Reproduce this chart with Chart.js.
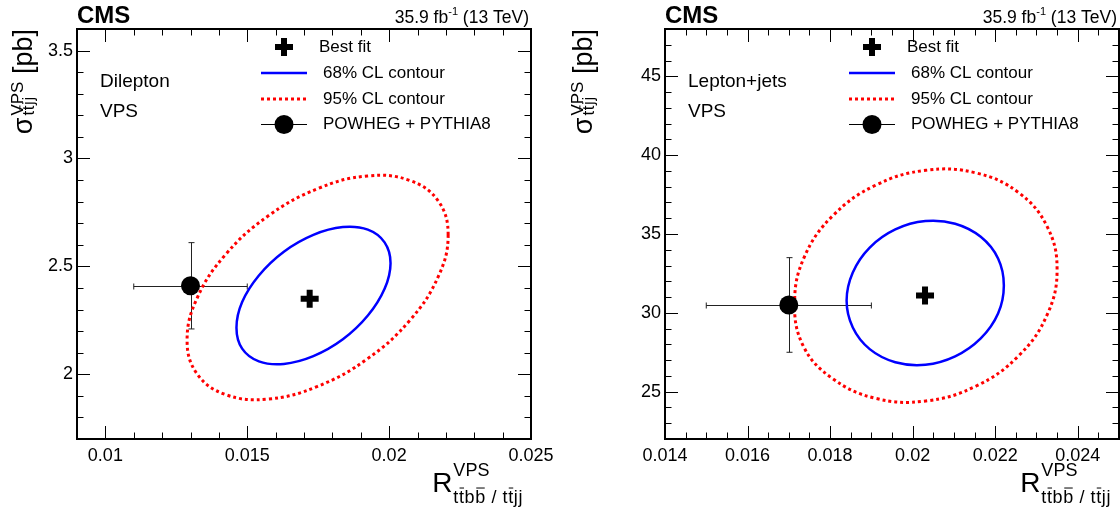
<!DOCTYPE html>
<html>
<head>
<meta charset="utf-8">
<script src="https://cdn.jsdelivr.net/npm/chart.js@4.4.0/dist/chart.umd.min.js"></script>
<style>
  html, body { margin: 0; padding: 0; background: #fff; }
  #wrap { display: flex; width: 1120px; height: 511px; }
  canvas { display: block; }
</style>
</head>
<body>
<div id="wrap">
  <canvas id="dilepton" width="560" height="511"></canvas>
  <canvas id="ljets" width="560" height="511"></canvas>
</div>
<script>
// ---- Dilepton channel ----
const dilBestFit = [[0.0172, 2.35]];
const dilPowheg = [[0.0130, 2.41]];
const dilPowhegErr = [0.002, 0.2];            // +- in x, +- in y
const dilContour68 = [
  [0.02005, 2.515], [0.01984, 2.611], [0.01925, 2.670], [0.01837, 2.682],
  [0.01733, 2.646], [0.01629, 2.568], [0.01541, 2.458], [0.01482, 2.335],
  [0.01462, 2.216], [0.01482, 2.119], [0.01541, 2.060], [0.01629, 2.048],
  [0.01733, 2.084], [0.01837, 2.162], [0.01925, 2.272], [0.01984, 2.396]
];
const dilContour95 = [
  [0.02208, 2.646], [0.02173, 2.803], [0.02073, 2.898], [0.01924, 2.919],
  [0.01748, 2.860], [0.01572, 2.732], [0.01423, 2.554], [0.01323, 2.352],
  [0.01288, 2.158], [0.01323, 2.002], [0.01423, 1.906], [0.01572, 1.885],
  [0.01748, 1.944], [0.01924, 2.072], [0.02073, 2.250], [0.02173, 2.452]
];
const dilXTicks = [0.01, 0.015, 0.02, 0.025];
const dilYTicks = [2, 2.5, 3, 3.5];

// ---- Lepton+jets channel ----
const ljBestFit = [[0.0203, 31.1]];
const ljPowheg = [[0.0170, 30.5]];
const ljPowhegErr = [0.002, 3.0];
const ljContour68 = [
  [0.02221, 31.74], [0.02207, 33.45], [0.02165, 34.82], [0.02103, 35.65],
  [0.02031, 35.82], [0.01958, 35.29], [0.01896, 34.14], [0.01855, 32.56],
  [0.01840, 30.78], [0.01855, 29.07], [0.01896, 27.70], [0.01958, 26.87],
  [0.02031, 26.71], [0.02103, 27.24], [0.02165, 28.38], [0.02207, 29.96]
];
const ljContour95 = [
  [0.02350, 32.75], [0.02326, 35.47], [0.02257, 37.62], [0.02154, 38.87],
  [0.02032, 39.04], [0.01910, 38.09], [0.01807, 36.17], [0.01738, 33.57],
  [0.01714, 30.70], [0.01735, 27.90], [0.01805, 25.85], [0.01910, 24.58],
  [0.02032, 24.41], [0.02154, 25.36], [0.02257, 27.28], [0.02326, 29.88]
];
const ljXTicks = [0.014, 0.016, 0.018, 0.02, 0.022, 0.024];
const ljYTicks = [25, 30, 35, 40, 45];

const FONT = '"Liberation Sans", Arial, sans-serif';

const toXY = (pts) => pts.map(([x, y]) => ({ x, y }));

// closed contour: pad with neighbours so the spline is smooth where it closes,
// then hide the two padding segments
function loop(pts) {
  const n = pts.length;
  return toXY([pts[n - 1], ...pts, pts[0], pts[1]]);
}
function hideEnds(n) {
  return {
    borderColor: (c) => (c.p0DataIndex === 0 || c.p0DataIndex === n + 1 ? 'rgba(0,0,0,0)' : undefined),
  };
}

const fmt = (v) => String(parseFloat(Number(v).toPrecision(6)));

// text with '~' after a letter = bar over that letter
function barText(ctx, str, x, y, size, draw) {
  let cx = x;
  for (let i = 0; i < str.length; i++) {
    const ch = str[i];
    if (ch === '~') continue;
    const w = ctx.measureText(ch).width + 0.6;
    if (draw) {
      ctx.fillText(ch, cx, y);
      if (str[i + 1] === '~') {
        ctx.fillRect(cx + w * 0.1, y - size * 0.86, w * 0.8, 1);
      }
    }
    cx += w;
  }
  return cx - x;
}

function rootStyle(p) {
  return {
    id: 'rootStyle',
    // keep the frame flush with the requested right padding
    afterLayout(chart) {
      const a = chart.chartArea;
      const x = chart.scales.x;
      const right = chart.width - p.padRight;
      if (Math.abs(a.right - right) > 0.5) {
        a.right = right;
        a.width = right - a.left;
        x.right = right;
        x.width = right - x.left;
        x.configure();
      }
    },
    beforeDatasetsDraw(chart) {
      const { ctx, scales: { x, y } } = chart;
      ctx.save();
      ctx.strokeStyle = '#222';
      ctx.lineWidth = 1;
      p.powheg.forEach(([vx, vy]) => {
        const [ex, ey] = p.powhegErr;
        const px = Math.round(x.getPixelForValue(vx)) + 0.5;
        const py = Math.round(y.getPixelForValue(vy)) + 0.5;
        const x1 = x.getPixelForValue(vx - ex), x2 = x.getPixelForValue(vx + ex);
        const y1 = y.getPixelForValue(vy + ey), y2 = y.getPixelForValue(vy - ey);
        ctx.beginPath();
        ctx.moveTo(x1, py); ctx.lineTo(x2, py);
        ctx.moveTo(px, y1); ctx.lineTo(px, y2);
        ctx.moveTo(x1, py - 3); ctx.lineTo(x1, py + 3);
        ctx.moveTo(x2, py - 3); ctx.lineTo(x2, py + 3);
        ctx.moveTo(px - 3, y1); ctx.lineTo(px + 3, y1);
        ctx.moveTo(px - 3, y2); ctx.lineTo(px + 3, y2);
        ctx.stroke();
      });
      ctx.restore();
    },
    afterDraw(chart) {
      const { ctx, chartArea: a, scales: { x, y } } = chart;
      ctx.save();
      // ticks on all four sides, pointing inward
      ctx.strokeStyle = '#000';
      ctx.lineWidth = 1;
      const line = (x1, y1, x2, y2) => { ctx.beginPath(); ctx.moveTo(x1, y1); ctx.lineTo(x2, y2); ctx.stroke(); };
      const steps = (min, max, step) => {
        const out = [];
        for (let k = Math.ceil(min / step - 1e-9); k * step <= max + 1e-12; k++) out.push(k * step);
        return out;
      };
      steps(x.min, x.max, p.xMinor).forEach((v) => {
        const px = Math.round(x.getPixelForValue(v)) + 0.5;
        const major = p.xTicks.some((t) => Math.abs(t - v) < p.xMinor / 10);
        const len = major ? 13 : 6.5;
        line(px, a.bottom, px, a.bottom - len);
        line(px, a.top, px, a.top + len);
      });
      steps(y.min, y.max, p.yMinor).forEach((v) => {
        const py = Math.round(y.getPixelForValue(v)) + 0.5;
        const major = p.yTicks.some((t) => Math.abs(t - v) < p.yMinor / 10);
        const len = major ? 13 : 6.5;
        line(a.left, py, a.left + len, py);
        line(a.right, py, a.right - len, py);
      });
      ctx.lineWidth = 2;
      ctx.strokeRect(a.left, a.top, a.right - a.left, a.bottom - a.top);

      ctx.fillStyle = '#000';
      ctx.textBaseline = 'alphabetic';
      // CMS + lumi
      ctx.textAlign = 'left';
      ctx.font = 'bold 24px ' + FONT;
      ctx.fillText('CMS', a.left, 23);
      ctx.font = '17.5px ' + FONT;
      const tail = ' (13 TeV)';
      const right = a.right - 2;
      const wTail = ctx.measureText(tail).width;
      ctx.fillText(tail, right - wTail, 23);
      ctx.font = '11px ' + FONT;
      const wSup = ctx.measureText('-1').width;
      ctx.fillText('-1', right - wTail - wSup, 15);
      ctx.font = '17.5px ' + FONT;
      const wHead = ctx.measureText('35.9 fb').width;
      ctx.fillText('35.9 fb', right - wTail - wSup - wHead, 23);

      // channel labels
      ctx.font = '19px ' + FONT;
      ctx.textBaseline = 'middle';
      ctx.fillText(p.channel, a.left + 23, 82);
      ctx.fillText('VPS', a.left + 23, 112);

      // legend
      const L = a.left;
      ctx.font = '17px ' + FONT;
      ctx.fillText('Best fit', L + 242, 47);
      ctx.fillText('68% CL contour', L + 246, 73);
      ctx.fillText('95% CL contour', L + 246, 99);
      ctx.fillText('POWHEG + PYTHIA8', L + 246, 124);
      ctx.fillRect(L + 198, 44, 18, 6);
      ctx.fillRect(L + 204, 38, 6, 18);
      ctx.strokeStyle = '#0000ff';
      ctx.lineWidth = 2.5;
      line(L + 184, 73, L + 230, 73);
      ctx.strokeStyle = '#ff0000';
      ctx.lineWidth = 3;
      ctx.setLineDash([3, 3]);
      line(L + 184, 99, L + 230, 99);
      ctx.setLineDash([]);
      ctx.strokeStyle = '#000';
      ctx.lineWidth = 1;
      line(L + 184, 124.5, L + 230, 124.5);
      ctx.beginPath();
      ctx.arc(L + 207, 124.5, 9.5, 0, Math.PI * 2);
      ctx.fill();

      // x title
      ctx.textBaseline = 'alphabetic';
      ctx.font = '28px ' + FONT;
      const rW = ctx.measureText('R').width;
      ctx.font = '18px ' + FONT;
      const supW = ctx.measureText('VPS').width;
      const subW = barText(ctx, 'tt~bb~ / tt~jj', 0, 0, 18, false);
      const x0 = a.right - 8 - (rW + 1 + Math.max(supW, subW));
      ctx.font = '28px ' + FONT;
      ctx.fillText('R', x0, 492);
      ctx.font = '18px ' + FONT;
      ctx.fillText('VPS', x0 + rW + 1, 476);
      barText(ctx, 'tt~bb~ / tt~jj', x0 + rW + 1, 503, 18, true);

      // y title, rotated
      ctx.font = '27px ' + FONT;
      const sW = ctx.measureText('\u03c3').width;
      const pbW = ctx.measureText(' [pb]').width;
      ctx.font = '17px ' + FONT;
      const ySupW = ctx.measureText('VPS').width;
      const ySubW = barText(ctx, 'tt~jj', 0, 0, 17, false);
      const total = sW + 2 + Math.max(ySupW, ySubW) + pbW;
      ctx.translate(32, a.top + total);
      ctx.rotate(-Math.PI / 2);
      ctx.font = '27px ' + FONT;
      ctx.fillText('\u03c3', 0, 0);
      ctx.fillText(' [pb]', sW + 2 + Math.max(ySupW, ySubW), 0);
      ctx.font = '17px ' + FONT;
      ctx.fillText('VPS', sW + 2, -9);
      barText(ctx, 'tt~jj', sW + 2, 2, 17, true);
      ctx.restore();
    },
  };
}

function makePanel(id, p) {
  new Chart(document.getElementById(id), {
    type: 'scatter',
    data: {
      datasets: [
        { label: 'POWHEG + PYTHIA8', data: toXY(p.powheg), pointStyle: 'circle', pointRadius: 9.5,
          backgroundColor: '#000', borderColor: '#000', borderWidth: 0 },
        { label: 'Best fit', data: toXY(p.bestFit), pointStyle: 'cross', pointRadius: 9,
          borderColor: '#000', borderWidth: 6 },
        { label: '68% CL contour', data: loop(p.c68), showLine: true, tension: 0.4,
          borderColor: '#0000ff', borderWidth: 2.5, pointRadius: 0, segment: hideEnds(p.c68.length) },
        { label: '95% CL contour', data: loop(p.c95), showLine: true, tension: 0.4,
          borderColor: '#ff0000', borderWidth: 3, borderDash: [3, 3], pointRadius: 0,
          segment: hideEnds(p.c95.length) },
      ],
    },
    options: {
      responsive: false,
      animation: false,
      events: [],
      layout: { padding: { top: 29, right: p.padRight, left: 0, bottom: 0 } },
      plugins: { legend: { display: false }, tooltip: { enabled: false } },
      scales: {
        x: {
          type: 'linear', position: 'bottom', min: p.xMin, max: p.xMax,
          afterBuildTicks: (s) => { s.ticks = p.xTicks.map((v) => ({ value: v })); },
          afterFit: (s) => { s.height = 72; s.paddingLeft = 0; s.paddingRight = 0; },
          grid: { display: false, drawTicks: false },
          border: { display: false },
          ticks: { callback: fmt, color: '#000', font: { family: FONT, size: 18 }, padding: 6,
                   maxRotation: 0, autoSkip: false },
        },
        y: {
          type: 'linear', position: 'left', min: p.yMin, max: p.yMax,
          afterBuildTicks: (s) => { s.ticks = p.yTicks.map((v) => ({ value: v })); },
          afterFit: (s) => { s.width = p.yWidth; s.paddingTop = 0; s.paddingBottom = 0; },
          grid: { display: false, drawTicks: false },
          border: { display: false },
          ticks: { callback: fmt, color: '#000', font: { family: FONT, size: 18 }, padding: 4,
                   autoSkip: false },
        },
      },
    },
    plugins: [rootStyle(p)],
  });
}

makePanel('dilepton', {
  channel: 'Dilepton',
  bestFit: dilBestFit, powheg: dilPowheg, powhegErr: dilPowhegErr,
  c68: dilContour68, c95: dilContour95,
  xTicks: dilXTicks, yTicks: dilYTicks, xMinor: 0.001, yMinor: 0.1,
  xMin: 0.009, xMax: 0.025, yMin: 1.7, yMax: 3.6,
  yWidth: 77, padRight: 29,
});

makePanel('ljets', {
  channel: 'Lepton+jets',
  bestFit: ljBestFit, powheg: ljPowheg, powhegErr: ljPowhegErr,
  c68: ljContour68, c95: ljContour95,
  xTicks: ljXTicks, yTicks: ljYTicks, xMinor: 0.0005, yMinor: 1,
  xMin: 0.014, xMax: 0.025, yMin: 22, yMax: 48,
  yWidth: 105, padRight: 1,
});
</script>
</body>
</html>
